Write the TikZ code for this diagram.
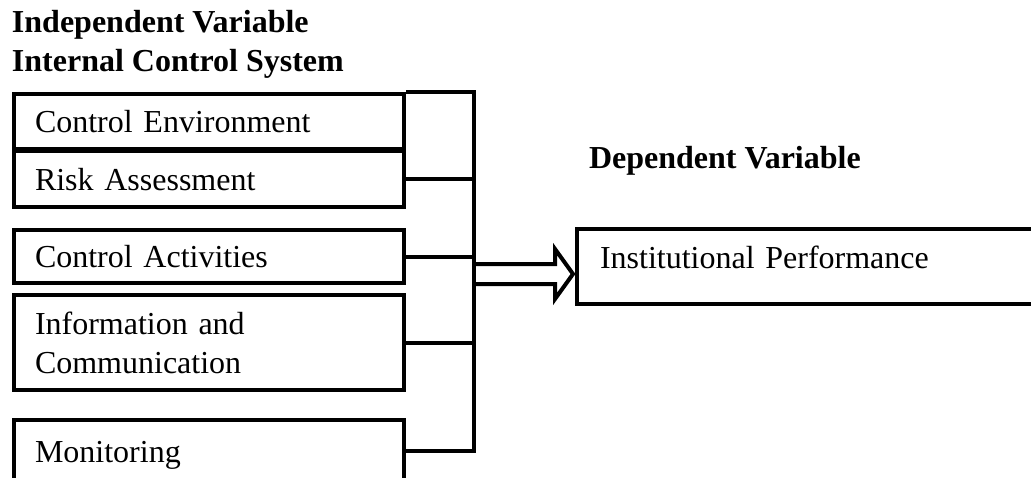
\documentclass[tikz,border=0pt]{standalone}
\usepackage{fontspec}
\setmainfont{Liberation Serif}
\usetikzlibrary{calc}
\begin{document}
\begin{tikzpicture} [x = 0.75pt, y = -0.75pt, line width = 3pt,
	box/.style = {draw, rectangle, anchor = north west, inner xsep = 15.75pt, inner ysep = 0pt,
		minimum width = 292.5pt, text width = 261pt, align = left,
		font = \fontsize{24}{29.25}\selectfont},
	oneline/.style = {text height = 16.5pt, text depth = 0pt},
	head/.style = {anchor = base west, inner sep = 0pt, font = \fontsize{24}{29.25}\selectfont\bfseries}]
	\useasboundingbox (0,0) rectangle (1031,478);
	\clip (0,0) rectangle (1031,478);
	\node [head] (iv) at (10,33) {Independent Variable};
	\node [head] (ics) at (10,72) {Internal Control System};
	\node [head] (dv) at (587,168) {Dependent Variable};
	\node [box, oneline, minimum height = 41.25pt] (ce) at (12,92) {Control Environment};
	\node [box, oneline, minimum height = 42pt] (ra) at (12,149) {Risk Assessment};
	\node [box, oneline, minimum height = 39.75pt] (ca) at (12,228) {Control Activities};
	\node [box, minimum height = 71.25pt] (ic) at (12,293) {Information and\\Communication};
	\node [box, oneline, minimum height = 46.5pt] (mo) at (12,418) {Monitoring};
	\node [box, oneline, text depth = 14.25pt, inner xsep = 17.25pt, minimum width = 375pt,
		text width = 340.5pt, minimum height = 56.25pt] (ip) at (575,227) {Institutional Performance};
	\coordinate (bus) at (474,0);
	\draw (ce.north east) -- (ce.north east -| bus) -- (mo.east -| bus) -- (mo.east);
	\draw (ra.east) -- (ra.east -| bus);
	\draw (ca.east) -- (ca.east -| bus);
	\draw (ic.east) -- (ic.east -| bus);
	\draw [line join = miter] ($(ip.west -| bus)+(0,-2.5)$) -- ($(ip.west)+(-20,-2.5)$) -- ($(ip.west)+(-20,-17.5)$)
		-- ($(ip.west)+(-2,7.5)$) -- ($(ip.west)+(-20,32.5)$) -- ($(ip.west)+(-20,17.5)$) -- ($(ip.west -| bus)+(0,17.5)$);
\end{tikzpicture}
\end{document}
